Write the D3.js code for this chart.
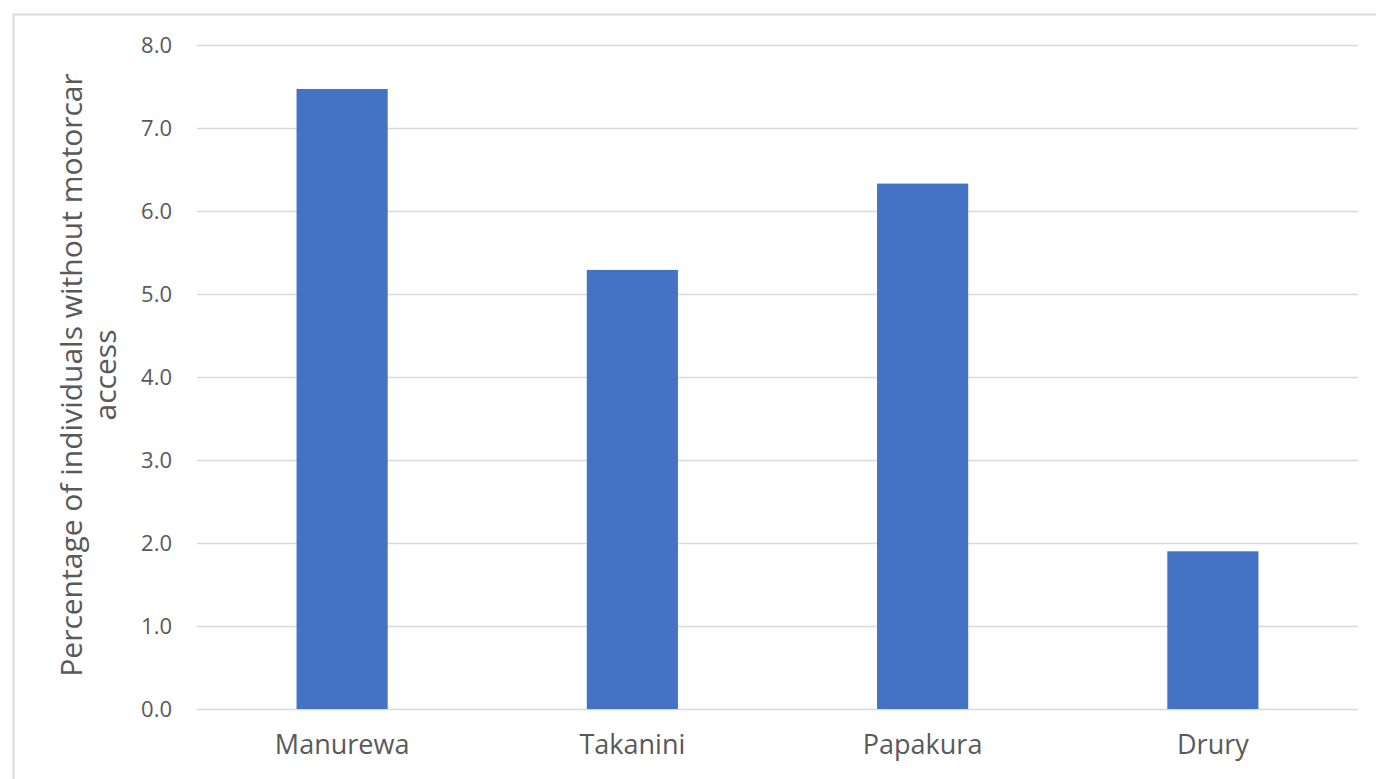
<!DOCTYPE html>
<html>
<head>
  <meta charset="utf-8">
  <script src="https://d3js.org/d3.v7.min.js"></script>
  <style>
    body { margin: 0; background: #fff; }
    text { font-family: "Open Sans", "Noto Sans", sans-serif; fill: #595959; }
  </style>
</head>
<body>
  <script>
    // data
    var areas = ['Manurewa', 'Takanini', 'Papakura', 'Drury'];
    var noCarPct = [7.47, 5.29, 6.33, 1.90];
    var yTicks = [0, 1, 2, 3, 4, 5, 6, 7, 8];
    var yTitle = ['Percentage of individuals without motorcar', 'access'];

    var W = 1376, H = 779;
    var plotL = 197, plotR = 1358, plotT = 45, plotB = 709;

    var svg = d3.select('body').append('svg')
      .attr('width', W).attr('height', H);

    // chart frame
    svg.append('rect')
      .attr('x', 13.5).attr('y', 14.5)
      .attr('width', W + 10).attr('height', H + 10)
      .attr('fill', 'none').attr('stroke', '#d9d9d9').attr('stroke-width', 2);

    var x = d3.scaleBand().domain(areas).range([plotL, plotR]).paddingInner(0.686).paddingOuter(0.343);
    var y = d3.scaleLinear().domain([0, 8]).range([plotB, plotT]);

    // gridlines + y labels
    var yAxis = d3.axisLeft(y).tickValues(yTicks).tickFormat(d3.format('.1f'))
      .tickSize(-(plotR - plotL)).tickPadding(25);
    var gy = svg.append('g').attr('transform', 'translate(' + plotL + ',0)').call(yAxis);
    gy.select('.domain').remove();
    gy.selectAll('line').attr('stroke', '#d9d9d9').attr('stroke-width', 1.5);
    gy.selectAll('text').attr('font-size', 22).attr('fill', '#595959');

    // bars
    svg.selectAll('rect.bar')
      .data(areas)
      .enter().append('rect')
      .attr('class', 'bar')
      .attr('x', function(d) { return x(d); })
      .attr('width', x.bandwidth())
      .attr('y', function(d, i) { return y(noCarPct[i]); })
      .attr('height', function(d, i) { return plotB - y(noCarPct[i]); })
      .attr('fill', '#4472c4');

    // x labels
    var xAxis = d3.axisBottom(x).tickSize(0).tickPadding(26);
    var gx = svg.append('g').attr('transform', 'translate(0,' + plotB + ')').call(xAxis);
    gx.select('.domain').remove();
    gx.selectAll('text').attr('font-size', 27).attr('fill', '#595959');

    // y title, two lines
    var title = svg.append('text')
      .attr('transform', 'translate(72,375) rotate(-90)')
      .attr('text-anchor', 'middle')
      .attr('font-size', 30);
    title.selectAll('tspan')
      .data(yTitle)
      .enter().append('tspan')
      .attr('x', 0)
      .attr('dy', function(d, i) { return i === 0 ? 10 : 34; })
      .text(function(d) { return d; });
  </script>
</body>
</html>
